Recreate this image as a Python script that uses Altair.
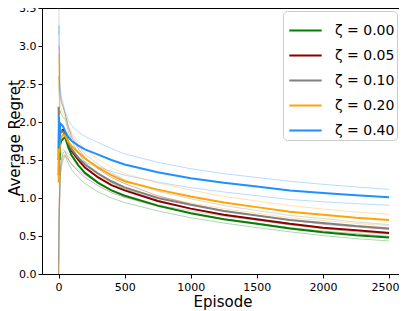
import altair as alt
import pandas as pd

episodes = [1, 4, 8, 12, 20, 35, 50, 75, 100, 150, 200, 300, 400, 500, 750, 1000, 1250, 1500, 1750, 2000, 2250, 2500]

labels = ["ζ = 0.00", "ζ = 0.05", "ζ = 0.10", "ζ = 0.20", "ζ = 0.40"]
colors = ["#008000", "#8b0000", "#808080", "#ffa500", "#1e90ff"]

green = [1.30, 1.60, 1.50, 1.70, 1.75, 1.78, 1.80, 1.66, 1.56, 1.43, 1.33, 1.20, 1.10, 1.03, 0.90, 0.80, 0.72, 0.66, 0.60, 0.55, 0.51, 0.48]
red = [1.50, 2.00, 1.70, 1.85, 1.88, 1.90, 1.86, 1.72, 1.62, 1.50, 1.40, 1.27, 1.17, 1.10, 0.96, 0.86, 0.78, 0.72, 0.66, 0.61, 0.575, 0.54]
gray = [2.20, 1.60, 2.00, 1.85, 1.88, 1.87, 1.83, 1.72, 1.64, 1.53, 1.44, 1.32, 1.22, 1.14, 1.00, 0.91, 0.83, 0.77, 0.71, 0.67, 0.63, 0.60]
orange = [1.20, 1.90, 1.60, 1.75, 1.80, 1.83, 1.82, 1.74, 1.68, 1.60, 1.52, 1.40, 1.30, 1.22, 1.11, 1.02, 0.94, 0.88, 0.82, 0.78, 0.74, 0.71]
blue = [1.65, 2.07, 1.70, 1.98, 1.97, 1.94, 1.88, 1.80, 1.75, 1.69, 1.64, 1.57, 1.50, 1.44, 1.34, 1.26, 1.20, 1.15, 1.10, 1.065, 1.035, 1.01]

green_hw = [1.3, 0.9, 0.6, 0.45, 0.35, 0.28, 0.24, 0.21, 0.19, 0.16, 0.14, 0.12, 0.1, 0.09, 0.07, 0.06, 0.05, 0.05, 0.045, 0.045, 0.045, 0.045]
red_hw = [1.5, 1.0, 0.7, 0.5, 0.38, 0.3, 0.25, 0.21, 0.18, 0.15, 0.13, 0.11, 0.1, 0.09, 0.07, 0.06, 0.055, 0.05, 0.05, 0.045, 0.045, 0.045]
gray_hw = [2.2, 1.4, 0.9, 0.6, 0.42, 0.32, 0.27, 0.22, 0.19, 0.16, 0.14, 0.12, 0.11, 0.1, 0.09, 0.08, 0.07, 0.065, 0.06, 0.06, 0.055, 0.05]
orange_hw = [1.2, 1.0, 0.7, 0.5, 0.36, 0.28, 0.24, 0.2, 0.17, 0.14, 0.12, 0.11, 0.1, 0.1, 0.09, 0.085, 0.08, 0.08, 0.08, 0.075, 0.075, 0.075]
blue_hw = [1.5, 1.2, 0.8, 0.5, 0.36, 0.3, 0.26, 0.22, 0.2, 0.18, 0.17, 0.16, 0.15, 0.14, 0.13, 0.125, 0.12, 0.12, 0.12, 0.115, 0.11, 0.105]

series = [green, red, gray, orange, blue]
widths = [green_hw, red_hw, gray_hw, orange_hw, blue_hw]

rows = []
for lab, vals, hws in zip(labels, series, widths):
    for e, v, h in zip(episodes, vals, hws):
        rows.append({"ep": e, "val": v, "lo": max(v - h, 0.0), "hi": v + h, "series": lab})
df = pd.DataFrame(rows)

PLOT_W, PLOT_H = 357, 266
xscale = alt.Scale(domain=[-125, 2575], nice=False, zero=False)
yscale = alt.Scale(domain=[0, 3.5], nice=False)
cscale = alt.Scale(domain=labels, range=colors)

FONT = "DejaVu Sans"
xaxis = alt.Axis(title="Episode", values=[0, 500, 1000, 1500, 2000, 2500], format="d", grid=False,
                 labelFontSize=11, titleFontSize=15, tickSize=4, labelPadding=3,
                 labelOffset={"condition": {"test": "datum.value == 2500", "value": -4}, "value": 0},
                 titleBaseline="alphabetic", titleY=32, titleX=PLOT_W / 2 + 2,
                 labelOverlap=False, labelFlush=False,
                 domainColor="black", tickColor="black", labelColor="black", titleColor="black",
                 titleFontWeight="normal", labelFont=FONT, titleFont=FONT)
yaxis = alt.Axis(title="Average Regret", values=[0, 0.5, 1, 1.5, 2, 2.5, 3, 3.5], format=".1f", grid=False,
                 labelFontSize=11, titleFontSize=15, tickSize=4, labelPadding=2,
                 titleBaseline="alphabetic", titleX=-22.5, titleY=129.5, titleAngle=-90, titleAlign="center",
                 labelOverlap=False, labelFlush=False,
                 domainColor="black", tickColor="black", labelColor="black", titleColor="black",
                 titleFontWeight="normal", labelFont=FONT, titleFont=FONT)

X = alt.X("ep:Q", scale=xscale, axis=xaxis)

base = alt.Chart(df)

band = base.mark_area(opacity=0.2, clip=True).encode(
    x=X,
    y=alt.Y("lo:Q", scale=yscale, axis=yaxis),
    y2="hi:Q",
    color=alt.Color("series:N", scale=cscale, legend=None),
    order=alt.Order("ep:Q"),
)
edge_lo = base.mark_line(opacity=0.4, strokeWidth=0.8, clip=True).encode(
    x=X,
    y=alt.Y("lo:Q", scale=yscale, axis=yaxis),
    color=alt.Color("series:N", scale=cscale, legend=None),
    order=alt.Order("ep:Q"),
)
edge_hi = base.mark_line(opacity=0.4, strokeWidth=0.8, clip=True).encode(
    x=X,
    y=alt.Y("hi:Q", scale=yscale, axis=yaxis),
    color=alt.Color("series:N", scale=cscale, legend=None),
    order=alt.Order("ep:Q"),
)
lines = base.mark_line(strokeWidth=2, clip=True).encode(
    x=X,
    y=alt.Y("val:Q", scale=yscale, axis=yaxis),
    color=alt.Color("series:N", scale=cscale, sort=labels, legend=alt.Legend(
        title=None, orient="none", legendX=241, legendY=3,
        symbolType="stroke", symbolSize=1050, symbolStrokeWidth=2, symbolOffset=3,
        labelFontSize=14, labelFont=FONT, labelColor="black", labelOffset=12,
        rowPadding=0, padding=2, strokeColor="#cccccc", fillColor="white", cornerRadius=4,
    )),
    order=alt.Order("ep:Q"),
)

chart = alt.layer(band, edge_lo, edge_hi, lines).resolve_legend(color="independent").properties(
    width=PLOT_W, height=PLOT_H,
    autosize=alt.AutoSizeParams(type="none"),
    padding={"left": 34, "top": 0, "right": 0, "bottom": 36},
).configure_view(stroke="black", strokeWidth=1)

chart.save("out.html", embed_options={"renderer": "svg", "actions": False})
